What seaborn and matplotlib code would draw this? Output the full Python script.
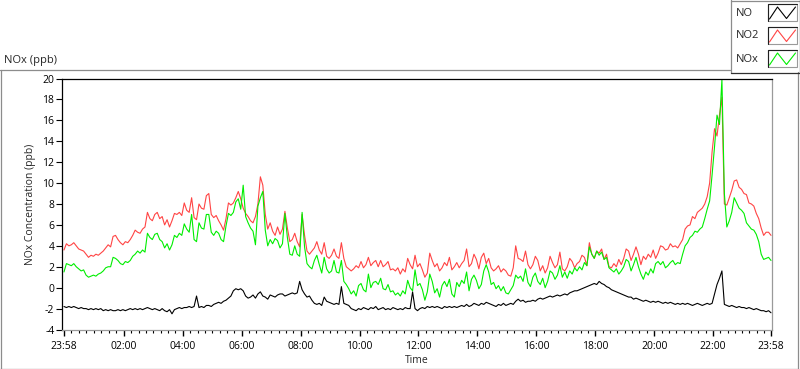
import numpy as np
import pandas as pd
import matplotlib
matplotlib.use("Agg")
import matplotlib.pyplot as plt
import matplotlib.dates as mdates
from matplotlib.lines import Line2D
from matplotlib.patches import Rectangle
import seaborn as sns

# ---------------- data (5-minute samples) ----------------
start_time = "2024-01-01 23:58"
step_minutes = 5
series_names = ["NO", "NO2", "NOx"]

no = [
    -1.8, -1.9, -1.8, -1.9, -1.8, -1.9, -2.0, -1.9, -2.0, -2.0,
    -2.1, -2.0, -2.1, -2.0, -2.1, -2.0, -2.2, -2.1, -2.2, -2.1,
    -2.2, -2.2, -2.1, -2.2, -2.1, -2.2, -2.1, -2.0, -2.1, -2.0,
    -2.1, -2.0, -2.1, -2.0, -1.9, -2.0, -2.1, -2.0, -2.1, -2.2,
    -2.0, -2.2, -2.3, -2.1, -2.5, -2.1, -2.0, -1.9, -2.0, -1.9,
    -1.9, -1.8, -1.9, -1.8, -0.8, -1.9, -1.8, -1.9, -1.7,
    -1.7, -1.8, -1.6, -1.5, -1.4, -1.5, -1.3, -1.2, -1.0, -0.8,
    -0.3, -0.1, -0.2, -0.1, -0.3, -0.8, -1.0, -0.9, -0.7, -1.0,
    -0.6, -0.4, -0.8, -0.9, -1.1, -0.7, -0.8, -0.9, -0.7, -0.6,
    -0.6, -0.8, -0.7, -0.6, -0.5, -0.6, -0.5, 0.6, -0.2, -0.6,
    -0.9, -0.8, -1.2, -1.5, -1.6, -1.5, -1.7, -0.9, -1.3, -1.4,
    -1.5, -1.6, -1.5, -1.6, 0.1, -1.5, -1.6, -1.7,
    -2.0, -2.1, -2.2, -2.0, -2.1, -1.9, -2.0, -2.1, -1.9, -2.0,
    -1.8, -2.1, -2.0, -1.9, -2.1, -2.0, -2.1, -1.9, -2.0, -2.1,
    -2.0, -2.1, -1.9, -2.0, -2.0, -0.4, -2.0, -2.2, -2.0, -1.9,
    -2.0, -1.8, -1.9, -1.8, -1.9, -1.8, -1.9, -2.0, -1.8, -1.9,
    -1.8, -1.9, -1.8, -1.9, -1.8, -1.7, -1.8, -1.6, -1.8, -1.7,
    -1.5, -1.6, -1.7, -1.5, -1.6, -1.4, -1.5, -1.6,
    -1.7, -1.8, -1.6, -1.7, -1.5, -1.7, -1.6, -1.5, -1.6, -1.3,
    -1.1, -1.3, -1.2, -1.4, -1.3, -1.3, -1.2, -1.3, -1.1, -1.0,
    -1.1, -1.0, -0.9, -0.8, -0.9, -0.8, -0.7, -0.8, -0.7, -0.6,
    -0.7, -0.5, -0.4, -0.3, -0.3, -0.2, -0.1, 0.0, 0.1, 0.2,
    0.3, 0.4, 0.3, 0.6, 0.4, 0.3, 0.1, 0.0, -0.2, -0.3,
    -0.4, -0.5, -0.6, -0.7, -0.8, -0.9, -0.9, -1.1,
    -1.0, -1.1, -1.2, -1.3, -1.2, -1.3, -1.4, -1.3, -1.4, -1.3,
    -1.4, -1.5, -1.4, -1.5, -1.4, -1.5, -1.6, -1.5, -1.6, -1.5,
    -1.6, -1.5, -1.6, -1.7, -1.6, -1.5, -1.6, -1.7, -1.6, -1.5,
    -1.6, -1.5, -0.6, 0.3, 0.9, 1.6, -1.6, -1.7, -1.8, -1.7,
    -1.8, -1.9, -1.8, -1.9, -1.9, -2.0, -1.9, -2.0, -2.1, -2.0,
    -2.1, -2.2, -2.2, -2.3, -2.2, -2.4,
]

no2 = [
    3.6, 4.2, 4.0, 4.1, 4.3, 4.0, 3.7, 3.6, 3.5, 3.2,
    2.9, 3.1, 3.0, 3.2, 3.1, 3.3, 3.5, 3.8, 4.1, 3.9,
    4.9, 5.0, 4.6, 4.3, 4.1, 4.4, 4.3, 4.6, 5.0, 5.5,
    5.3, 5.2, 5.6, 5.8, 7.2, 6.6, 6.4, 7.0, 7.2, 6.6,
    6.8, 6.0, 6.5, 5.8, 6.4, 7.1, 7.0, 7.2, 6.9, 8.1,
    7.4, 7.2, 8.6, 6.7, 6.5, 8.0, 7.6, 7.5, 8.8,
    9.0, 7.0, 6.7, 6.9, 6.4, 6.0, 5.5, 6.6, 8.1, 7.9,
    8.1, 8.6, 9.2, 8.5, 7.6, 7.1, 6.8, 6.4, 6.2, 6.8,
    8.0, 10.6, 9.8, 7.0, 5.6, 6.2, 5.4, 5.0, 5.8, 5.1,
    5.6, 7.3, 5.7, 4.4, 4.6, 5.2, 4.4, 3.9, 7.0, 5.0,
    3.5, 3.2, 3.5, 3.8, 4.4, 3.6, 3.2, 4.3, 3.0, 2.8,
    3.1, 3.7, 3.0, 2.8, 4.3, 2.8, 2.0, 1.8,
    1.6, 1.8, 2.1, 1.9, 2.5, 1.9, 2.2, 2.9, 2.1, 2.4,
    2.6, 2.0, 2.6, 2.0, 2.2, 2.5, 1.7, 1.8, 1.6, 1.9,
    1.3, 1.8, 1.5, 2.8, 2.2, 1.8, 3.1, 2.0, 2.3, 1.7,
    1.0, 1.4, 3.3, 2.6, 2.0, 2.3, 1.6, 1.9, 2.4, 2.1,
    2.9, 1.7, 2.0, 2.4, 1.9, 2.3, 2.6, 3.7, 2.0, 2.3,
    3.2, 2.7, 1.8, 2.9, 3.3, 2.3, 2.8, 1.9,
    1.6, 1.8, 2.1, 1.5, 1.8, 1.6, 1.2, 1.1, 1.9, 4.0,
    2.8, 2.7, 2.5, 3.5, 2.2, 1.8, 2.2, 3.0, 2.6, 1.6,
    2.1, 1.4, 1.9, 3.0, 2.4, 1.9, 2.2, 3.4, 1.8, 1.6,
    2.0, 2.8, 2.5, 1.9, 2.3, 2.5, 3.1, 2.9, 2.1, 4.3,
    3.2, 2.8, 3.5, 3.3, 3.7, 2.7, 3.2, 2.0, 1.9, 2.3,
    2.0, 2.7, 2.2, 2.8, 3.7, 3.5, 2.6, 3.2,
    3.9, 3.2, 2.2, 3.0, 2.7, 3.2, 2.9, 3.6, 2.8, 3.3,
    4.0, 3.9, 3.6, 3.7, 4.2, 3.9, 4.0, 3.8, 4.2, 4.6,
    5.6, 5.9, 6.0, 6.8, 6.6, 7.2, 7.4, 7.6, 8.0, 8.7,
    10.0, 13.0, 15.2, 14.5, 16.5, 18.2, 8.0, 7.9, 8.6, 9.3,
    10.2, 10.3, 9.6, 9.4, 9.0, 8.9, 8.1, 8.0, 7.8, 7.1,
    6.6, 5.7, 5.0, 5.3, 5.3, 5.0,
]

nox = [
    1.5, 2.3, 2.2, 2.1, 2.3, 2.0, 1.8, 1.6, 1.7, 1.2,
    1.0, 1.1, 1.2, 1.1, 1.3, 1.4, 1.6, 1.9, 2.0, 2.0,
    2.9, 2.8, 2.6, 2.3, 2.2, 2.5, 2.4, 2.6, 3.0, 3.2,
    3.5, 3.3, 3.6, 3.4, 5.2, 4.8, 4.6, 5.1, 5.2, 4.6,
    4.4, 3.8, 4.2, 3.6, 4.1, 5.0, 4.8, 5.2, 5.0, 6.1,
    5.6, 5.3, 7.0, 4.6, 4.4, 6.2, 5.7, 5.6, 7.0,
    7.0, 5.3, 5.0, 5.4, 5.2, 4.6, 4.4, 5.9, 7.1, 6.9,
    7.2, 8.2, 8.5, 7.5, 9.8, 6.8, 6.2, 5.7, 5.4, 4.1,
    7.8, 8.6, 9.2, 5.5, 4.0, 4.6, 4.2, 4.7, 4.5, 3.8,
    4.2, 7.1, 4.8, 3.2, 3.1, 4.0, 3.2, 3.0, 7.2, 3.9,
    2.3, 2.0, 1.8, 2.6, 3.1, 2.2, 1.4, 2.9, 1.8, 1.4,
    1.6, 2.6, 1.5, 1.4, 2.6, 0.6, 0.3, -0.1,
    -0.6, -0.3, -0.8, 0.2, 0.4, -0.2, -0.4, 1.3, 0.0, 0.5,
    0.6, 0.3, 0.9, -0.1, -0.2, 0.3, -0.4, -0.3, -0.7, -0.5,
    -0.8, -0.3, -0.6, 0.7, 0.0, -0.3, 1.7, 0.2, 0.4, -0.2,
    -1.2, -0.4, 1.3, 0.6, -0.5, -0.1, -0.9, 0.2, 0.6, 0.1,
    0.8, -0.6, -0.9, 0.5, 0.1, 0.7, 0.4, 1.5, -0.3, 0.8,
    1.2, 0.7, -0.1, 0.3, 1.6, 2.2, 1.5, 0.3,
    0.5, -0.1, 0.2, -0.3, 0.1, -0.5, -0.6, -0.2, 0.2, 1.2,
    0.9, 1.1, 0.6, 1.8, 0.5, 0.1, 1.0, 1.4, 0.6, 0.3,
    0.9, 0.0, 0.6, 1.6, 1.4, 0.8, 1.2, 2.1, 1.0, 1.5,
    0.9, 1.6, 1.3, 1.9, 1.6, 2.0, 1.7, 2.4, 2.1, 3.9,
    3.2, 2.8, 3.5, 3.1, 3.4, 2.7, 2.9, 1.9, 1.7, 1.5,
    1.8, 1.3, 1.6, 2.0, 2.7, 2.5, 1.6, 2.2,
    2.9, 2.0, 1.3, 0.8, 1.5, 1.2, 1.8, 1.4, 2.3, 2.5,
    2.2, 2.5, 1.9, 2.1, 2.4, 2.6, 2.2, 2.4, 2.3, 3.2,
    4.0, 4.3, 4.8, 5.0, 5.4, 5.3, 5.6, 5.8, 6.6, 7.5,
    8.3, 10.8, 13.5, 16.5, 15.6, 19.9, 9.0, 5.8, 6.4, 7.2,
    8.6, 8.1, 7.6, 7.4, 7.1, 6.2, 5.9, 5.6, 5.5, 5.1,
    4.4, 3.2, 2.7, 2.8, 2.9, 2.6,
]

x_tick_labels = ["23:58", "02:00", "04:00", "06:00", "08:00", "10:00", "12:00",
                 "14:00", "16:00", "18:00", "20:00", "22:00", "23:58"]
y_ticks = [-4, -2, 0, 2, 4, 6, 8, 10, 12, 14, 16, 18, 20]
colors = {"NO": "#000000", "NO2": "#ff4444", "NOx": "#00ee00"}

# ---------------- build table ----------------
start = pd.Timestamp(start_time)
end = start + pd.Timedelta(hours=24)
frames = []
for name, vals in zip(series_names, [no, no2, nox]):
    t = start + pd.to_timedelta(np.arange(len(vals)) * step_minutes, unit="min")
    frames.append(pd.DataFrame({"Time": t, "value": vals, "series": name}))
df = pd.concat(frames, ignore_index=True)

# ---------------- figure ----------------
sns.set_style("white")
plt.rcParams["font.family"] = ["Open Sans", "DejaVu Sans"]
W, H = 800, 369
fig = plt.figure(figsize=(W / 100, H / 100), dpi=100)
fig.patch.set_facecolor("white")


def fx(px):
    return px / W


def fy(py):
    return 1 - py / H


def fig_line(xs, ys, color, lw=0.9):
    fig.add_artist(Line2D([fx(v) for v in xs], [fy(v) for v in ys],
                          transform=fig.transFigure, color=color, lw=lw))


ax = fig.add_axes([fx(62), fy(329.5), fx(772) - fx(62), fy(78.5) - fy(329.5)])
sns.lineplot(data=df, x="Time", y="value", hue="series", hue_order=series_names,
             palette=colors, estimator=None, sort=False, linewidth=0.8,
             legend=False, ax=ax)

ax.set_ylim(-4, 20)
ax.set_xlim(mdates.date2num(start - pd.Timedelta(minutes=4)),
            mdates.date2num(end + pd.Timedelta(minutes=2)))
ax.set_yticks(y_ticks)
ax.set_yticklabels([str(v) for v in y_ticks])

day2 = (start + pd.Timedelta(days=1)).strftime("%Y-%m-%d")
major_times = [start] + [pd.Timestamp(f"{day2} {l}") for l in x_tick_labels[1:-1]] + [end]
major_nums = [mdates.date2num(t) for t in major_times]
minor_nums = []
for a, b in zip(major_nums[:-1], major_nums[1:]):
    minor_nums += list(np.linspace(a, b, 9)[1:-1])
ax.set_xticks(major_nums)
ax.set_xticklabels(x_tick_labels)
ax.set_xticks(minor_nums, minor=True)

ax.tick_params(axis="x", which="major", direction="out", length=4.5, width=1,
               color="black", labelsize=7.5, pad=4, labelcolor="black")
ax.tick_params(axis="x", which="minor", direction="out", length=2.2, width=0.8,
               color="black")
ax.tick_params(axis="y", which="major", direction="out", length=4.5, width=0.8,
               color="black", labelsize=7.5, pad=1, labelcolor="black")
ax.xaxis.set_ticks_position("bottom")
ax.yaxis.set_ticks_position("left")

for side, col in [("left", "black"), ("top", "black"),
                  ("right", "#9a9a9a"), ("bottom", "#9a9a9a")]:
    ax.spines[side].set_visible(True)
    ax.spines[side].set_color(col)
    ax.spines[side].set_linewidth(0.9)

ax.set_xlabel("Time", fontsize=7.5, va="top")
ax.xaxis.set_label_coords(0.5, -(355 - 329.5) / 251)
ax.set_ylabel("NOx Concentration (ppb)", fontsize=7.5, va="center")
ax.yaxis.set_label_coords((31 - 62) / 710, 0.5)

# panel title
fig.text(fx(4), fy(60), "NOx (ppb)", fontsize=8, ha="left", va="center")

# outer panel frame
panel_col = "#8c8c8c"
fig_line([0, 730], [69.5, 69.5], panel_col)
fig_line([0.5, 0.5], [69.5, 368.5], panel_col)
fig_line([0, 797.5], [368.5, 368.5], panel_col)
fig_line([797.5, 797.5], [72, 368.5], panel_col)

# legend box
fig_line([730.5, 730.5], [0, 72.5], "#8c8c8c")
fig_line([730.5, 799.5], [0.5, 0.5], "#8c8c8c")
fig_line([730.5, 799.5], [72.5, 72.5], "#303030")
fig_line([799.5, 799.5], [0, 72.5], "#303030")

legend_rows = [(13, 4, 21), (36, 27, 44), (59, 50, 67)]
for name, (yc, y0, y1) in zip(series_names, legend_rows):
    fig.text(fx(735.5), fy(yc), name, fontsize=8, ha="left", va="center")
    bx0, bx1 = 767.5, 797
    fig.add_artist(Rectangle((fx(bx0), fy(y1)), fx(bx1) - fx(bx0), fy(y0) - fy(y1),
                             transform=fig.transFigure, facecolor="white",
                             edgecolor="#9a9a9a", lw=0.8))
    fig_line([bx0, bx0, bx1], [y1, y0, y0], "#202020", lw=0.8)
    zx = [bx0 + 2, bx0 + 10, bx0 + 19, bx0 + 28]
    zy = [y1 - 2, y0 + 3, y1 - 2.5, y0 + 3]
    fig_line(zx, zy, colors[name], lw=0.8)

fig.savefig("out.png", dpi=100, facecolor="white")
